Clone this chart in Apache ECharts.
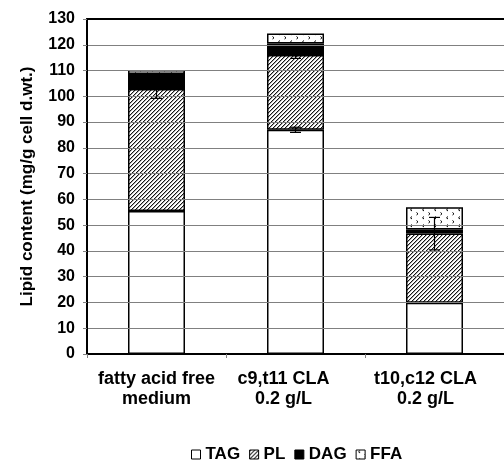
<!DOCTYPE html>
<html>
<head>
<meta charset="utf-8">
<script src="https://cdn.jsdelivr.net/npm/echarts@6/dist/echarts.min.js"></script>
<style>html,body{margin:0;padding:0;background:#fff}#c{width:504px;height:462px}</style>
</head>
<body>
<div id="c"></div>
<script>
const categories = ['fatty acid free\nmedium', 'c9,t11 CLA\n0.2 g/L', 't10,c12 CLA\n0.2 g/L'];
const seriesNames = ['TAG', 'PL', 'DAG', 'FFA'];
const tagValues = [55.5, 87.0, 19.9];
const plValues = [47.3, 29.0, 26.9];
const dagValues = [5.9, 4.5, 1.5];
const ffaValues = [1.5, 3.9, 8.6];
// error bars: category index, low, high
const errCat = [0, 1, 1, 2];
const errLow = [99.2, 86.0, 114.7, 40.4];
const errHigh = [106.4, 88.0, 117.3, 53.0];
const yTicks = {min: 0, max: 130, interval: 10};

function hatchPattern() {
  const c = document.createElement('canvas');
  const n = 4; c.width = n; c.height = n;
  const ctx = c.getContext('2d');
  const img = ctx.createImageData(n, n);
  for (let y = 0; y < n; y++) for (let x = 0; x < n; x++) {
    const d = (x + y) % n;
    let v = 255;
    if (d === 0) v = 20; else if (d === 1) v = 170;
    const i = (y * n + x) * 4;
    img.data[i] = v; img.data[i+1] = v; img.data[i+2] = v; img.data[i+3] = 255;
  }
  ctx.putImageData(img, 0, 0);
  return c;
}
function chevronPattern() {
  const c = document.createElement('canvas');
  c.width = 12; c.height = 8;
  const ctx = c.getContext('2d');
  ctx.fillStyle = '#fff'; ctx.fillRect(0, 0, 12, 8);
  ctx.strokeStyle = '#000'; ctx.lineWidth = 1;
  ctx.beginPath();
  ctx.moveTo(4, 0.5); ctx.lineTo(2.5, 1.8); ctx.lineTo(4, 3);
  ctx.moveTo(8.5, 4.5); ctx.lineTo(10, 5.8); ctx.lineTo(8.5, 7);
  ctx.stroke();
  return c;
}

const chart = echarts.init(document.getElementById('c'), null, {renderer: 'canvas'});
const fills = [
  '#ffffff',
  {image: hatchPattern(), repeat: 'repeat'},
  '#000000',
  {image: chevronPattern(), repeat: 'repeat'}
];
const values = [tagValues, plValues, dagValues, ffaValues];
const fam = 'Liberation Sans, Arial, sans-serif';
const labelShift = [[0, 0, 0, 0], [0, 24, 0, 0], [0, 18, 0, 0]];

const barSeries = seriesNames.map((name, i) => ({
  name: name,
  type: 'bar',
  stack: 'total',
  barWidth: 57,
  data: values[i],
  itemStyle: {color: fills[i], borderColor: '#000', borderWidth: 1.5},
  emphasis: {disabled: true},
  z: 3
}));

const errData = errCat.map((c, i) => [c, errLow[i], errHigh[i]]);

const option = {
  animation: false,
  backgroundColor: '#fff',
  grid: {left: 87, top: 19, width: 429, bottom: 108, containLabel: false},
  legend: {
    data: seriesNames,
    top: 441,
    left: 186,
    icon: 'rect',
    itemWidth: 9,
    itemHeight: 9,
    itemGap: 9,
    selectedMode: false,
    itemStyle: {borderColor: '#000', borderWidth: 1},
    textStyle: {fontFamily: fam, fontWeight: 'bold', fontSize: 17, color: '#000', padding: [0, 0, 0, 0]}
  },
  xAxis: [{
    type: 'category',
    data: categories.map((c, i) => ({value: c, textStyle: {padding: labelShift[i]}})),
    axisLine: {lineStyle: {color: '#000', width: 2}},
    axisTick: {show: true, length: 4, lineStyle: {color: '#808080'}},
    axisLabel: {fontFamily: fam, fontWeight: 'bold', fontSize: 18, color: '#000', margin: 15, lineHeight: 20, interval: 0},
    z: 5
  }, {
    type: 'category',
    position: 'top',
    data: categories,
    axisLine: {show: true, lineStyle: {color: '#000', width: 2}},
    axisTick: {show: false},
    axisLabel: {show: false},
    z: 5
  }],
  yAxis: {
    type: 'value',
    min: yTicks.min, max: yTicks.max, interval: yTicks.interval,
    name: 'Lipid content (mg/g cell d.wt.)',
    nameLocation: 'middle',
    nameGap: 51,
    nameTextStyle: {fontFamily: fam, fontWeight: 'bold', fontSize: 17, color: '#000'},
    axisLine: {show: true, lineStyle: {color: '#000', width: 2}},
    axisTick: {show: true, length: 4, lineStyle: {color: '#808080'}},
    axisLabel: {fontFamily: fam, fontWeight: 'bold', fontSize: 16, color: '#000', margin: 12},
    splitLine: {lineStyle: {color: '#808080', width: 1}},
    z: 5
  },
  series: barSeries.concat([{
    type: 'custom',
    name: 'err',
    data: errData,
    z: 10,
    renderItem: function (params, api) {
      const x = api.value(0);
      const lo = api.coord([x, api.value(1)]);
      const hi = api.coord([x, api.value(2)]);
      const w = 5.5;
      const st = {stroke: '#000', lineWidth: 1.2};
      return {type: 'group', children: [
        {type: 'line', shape: {x1: lo[0], y1: lo[1], x2: hi[0], y2: hi[1]}, style: st},
        {type: 'line', shape: {x1: lo[0]-w, y1: lo[1], x2: lo[0]+w, y2: lo[1]}, style: st},
        {type: 'line', shape: {x1: hi[0]-w, y1: hi[1], x2: hi[0]+w, y2: hi[1]}, style: st}
      ]};
    }
  }])
};
chart.setOption(option);
</script>
</body>
</html>
